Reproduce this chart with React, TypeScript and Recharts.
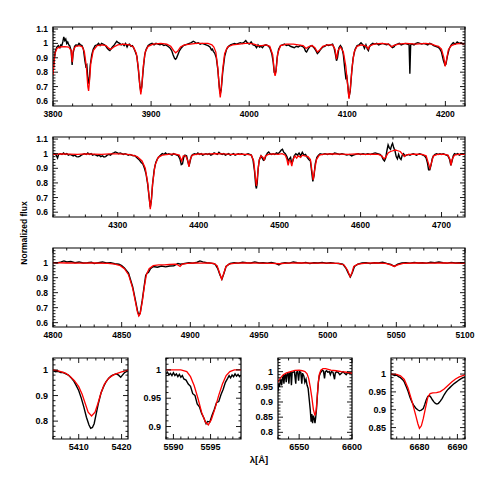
import React from "react";
import { LineChart, Line, XAxis, YAxis, ReferenceArea } from "recharts";

// [wavelength, normalized flux]
const obsBlue: number[] = [
  3800, 0.8, 3801, 0.88, 3802.5, 0.95, 3804, 0.975, 3805.5, 0.985, 3807, 0.97, 3808, 0.99, 3809, 0.985, 3810, 1.01, 3811, 1.045,
  3812, 1.02, 3813, 1.03, 3814, 1.0, 3815, 1.01, 3816, 0.99, 3817, 0.985, 3818.5, 0.95, 3819.5, 0.85, 3820.5, 0.93, 3822, 0.98,
  3823.5, 0.99, 3825, 0.985, 3826.5, 1.0, 3828, 0.99, 3829.5, 0.985, 3831, 0.96, 3832.5, 0.88, 3833.5, 0.84, 3834.5, 0.85,
  3835.5, 0.76, 3836.3, 0.72, 3837, 0.74, 3838, 0.85, 3839.5, 0.92, 3841, 0.96, 3843, 0.985, 3845, 0.99, 3846.5, 1.0, 3848, 0.985,
  3849.5, 1.0, 3851, 0.995, 3852.5, 0.99, 3854, 0.98, 3855.5, 0.965, 3857, 0.955, 3858, 0.95, 3859, 0.96, 3860.5, 0.975,
  3862, 0.985, 3863.5, 1.0, 3865, 1.015, 3866.5, 1.005, 3868, 1.0, 3869.5, 0.99, 3871, 0.995, 3872.5, 0.985, 3874, 1.0,
  3875.5, 0.975, 3876.5, 0.99, 3878, 0.995, 3879.5, 0.98, 3881, 0.985, 3882.5, 0.965, 3884, 0.94, 3885.5, 0.91, 3887, 0.82,
  3888.5, 0.71, 3889.5, 0.665, 3890.5, 0.7, 3892, 0.82, 3893.5, 0.92, 3895, 0.96, 3897, 0.985, 3899, 0.995, 3901, 1.0, 3903, 0.99,
  3905, 1.0, 3907, 0.995, 3909, 0.99, 3911, 0.995, 3913, 0.985, 3915, 0.99, 3917, 0.98, 3919, 0.97, 3921, 0.95, 3922.5, 0.92,
  3924, 0.895, 3925, 0.89, 3926, 0.9, 3927.5, 0.925, 3929, 0.95, 3931, 0.97, 3933, 0.985, 3935, 0.99, 3937, 0.995, 3939, 1.0,
  3941, 1.005, 3943, 1.015, 3944.5, 1.01, 3946, 1.0, 3948, 1.005, 3950, 0.995, 3952, 1.0, 3954, 0.995, 3956, 0.99, 3958, 0.985,
  3960, 0.975, 3961.5, 0.955, 3962.5, 0.96, 3963.5, 0.945, 3965, 0.93, 3966.5, 0.9, 3968, 0.82, 3969.5, 0.7, 3970.5, 0.65,
  3971.5, 0.68, 3973, 0.8, 3975, 0.91, 3977, 0.96, 3979, 0.98, 3981, 0.99, 3983, 0.995, 3985, 1.0, 3987, 0.995, 3989, 1.0,
  3991, 1.005, 3993, 1.0, 3995, 1.01, 3996.5, 1.02, 3998, 1.005, 4000, 0.995, 4002, 1.01, 4004, 0.99, 4006, 0.985, 4007.5, 0.97,
  4009, 0.99, 4010.5, 0.975, 4012, 0.98, 4013.5, 0.97, 4015, 0.985, 4017, 0.99, 4019, 0.985, 4021, 0.97, 4023, 0.93, 4024.5, 0.87,
  4025.5, 0.8, 4026.4, 0.79, 4027.3, 0.81, 4028.5, 0.9, 4030, 0.96, 4032, 0.985, 4034, 0.99, 4036, 0.995, 4038, 0.985, 4040, 0.99,
  4042, 0.98, 4044, 0.975, 4046, 0.97, 4048, 0.98, 4050, 0.975, 4052, 0.985, 4054, 0.98, 4056, 0.97, 4057.5, 0.945, 4058.5, 0.94,
  4060, 0.96, 4062, 0.98, 4064, 0.985, 4066, 0.97, 4068, 0.95, 4069.5, 0.93, 4071, 0.94, 4073, 0.96, 4075, 0.975, 4077, 0.98,
  4079, 0.99, 4081, 0.985, 4083, 0.99, 4085, 0.995, 4086.5, 0.97, 4088, 0.92, 4089, 0.88, 4090, 0.9, 4091.5, 0.97, 4093, 0.985,
  4094.5, 0.97, 4096, 0.92, 4097.5, 0.82, 4098.5, 0.76, 4099.5, 0.77, 4100.5, 0.71, 4101.7, 0.625, 4103, 0.67, 4104.5, 0.8,
  4106, 0.9, 4108, 0.96, 4110, 0.985, 4112, 0.99, 4114, 1.005, 4116, 0.99, 4117.5, 0.965, 4119, 0.99, 4120.5, 0.96, 4121.5, 0.95,
  4122.5, 0.975, 4124, 0.99, 4126, 1.0, 4128, 0.995, 4130, 1.0, 4132, 0.99, 4134, 0.995, 4136, 1.0, 4138, 0.995, 4140, 0.99,
  4142, 0.995, 4144, 0.985, 4146, 0.97, 4147.5, 0.975, 4149, 0.99, 4151, 0.995, 4153, 1.0, 4155, 0.99, 4157, 0.995, 4159, 1.0,
  4161, 0.995, 4163, 0.99, 4163.8, 0.79, 4164.6, 0.99, 4166, 0.995, 4168, 0.99, 4170, 1.0, 4172, 1.005, 4174, 1.0, 4176, 0.995,
  4178, 1.0, 4180, 0.995, 4182, 0.99, 4184, 1.0, 4186, 0.995, 4188, 0.985, 4190, 0.98, 4192, 0.975, 4194, 0.965, 4196, 0.94,
  4198, 0.88, 4199.5, 0.85, 4200.5, 0.855, 4202, 0.91, 4204, 0.965, 4206, 0.99, 4208, 1.005, 4210, 0.995, 4212, 1.01, 4214, 1.0,
  4216, 1.005, 4218, 0.995, 4220, 1.0,
];
const modBlue: number[] = [
  3800, 0.78, 3802, 0.93, 3804, 0.965, 3807, 0.975, 3812, 0.978, 3816, 0.975, 3818.5, 0.95, 3819.6, 0.87, 3820.5, 0.95,
  3823, 0.98, 3827, 0.985, 3830, 0.975, 3832, 0.94, 3834, 0.84, 3835.5, 0.7, 3836.3, 0.67, 3837, 0.72, 3838.5, 0.86, 3841, 0.95,
  3845, 0.985, 3850, 0.99, 3854, 0.985, 3857, 0.965, 3859, 0.96, 3862, 0.975, 3866, 0.99, 3872, 0.995, 3878, 0.99, 3882, 0.975,
  3885, 0.93, 3887, 0.83, 3888.6, 0.7, 3889.5, 0.645, 3890.4, 0.69, 3892, 0.84, 3894, 0.94, 3897, 0.98, 3902, 0.995, 3910, 1.0,
  3916, 0.995, 3920, 0.98, 3923, 0.95, 3925, 0.935, 3927, 0.945, 3930, 0.975, 3934, 0.99, 3940, 0.995, 3946, 1.0, 3952, 1.0,
  3958, 1.0, 3962, 0.99, 3964, 0.975, 3966, 0.94, 3968, 0.83, 3969.6, 0.68, 3970.5, 0.625, 3971.3, 0.67, 3973, 0.82, 3975, 0.93,
  3978, 0.975, 3983, 0.99, 3990, 0.995, 3996, 1.0, 4000, 1.0, 4005, 0.995, 4009, 0.985, 4013, 0.985, 4017, 0.99, 4021, 0.98,
  4024, 0.92, 4025.6, 0.8, 4026.4, 0.775, 4027.3, 0.8, 4029, 0.93, 4032, 0.985, 4038, 0.995, 4045, 0.995, 4050, 0.99, 4055, 0.985,
  4058, 0.965, 4060, 0.975, 4064, 0.985, 4067, 0.97, 4069.5, 0.94, 4072, 0.955, 4075, 0.98, 4080, 0.99, 4085, 0.99, 4087.5, 0.96,
  4089, 0.89, 4090.5, 0.95, 4093, 0.975, 4096, 0.94, 4098.5, 0.84, 4100.5, 0.7, 4101.7, 0.615, 4103, 0.68, 4105, 0.84, 4107, 0.94,
  4110, 0.98, 4114, 0.99, 4118, 0.985, 4120, 0.975, 4121.3, 0.96, 4122.5, 0.98, 4127, 0.995, 4135, 1.0, 4142, 0.995, 4145, 0.975,
  4147, 0.985, 4152, 0.995, 4160, 1.0, 4170, 0.995, 4180, 1.0, 4186, 0.995, 4190, 0.985, 4193, 0.98, 4196, 0.96, 4198.5, 0.9,
  4199.8, 0.84, 4201, 0.88, 4203, 0.955, 4206, 0.985, 4210, 0.995, 4215, 1.0, 4220, 0.998,
];

const obsMid: number[] = [
  4220, 0.995, 4222, 1.0, 4224, 0.99, 4225.6, 0.97, 4227, 0.995, 4229, 1.0, 4231, 0.995, 4233, 1.005, 4235, 0.995, 4237, 1.0,
  4239, 0.99, 4241, 0.995, 4243, 0.99, 4245, 0.985, 4247, 0.99, 4249, 0.98, 4251, 0.978, 4253, 0.982, 4255, 0.99, 4257, 0.995,
  4259, 1.0, 4261, 0.995, 4263, 1.005, 4265, 0.995, 4267, 1.0, 4269, 0.99, 4271, 0.995, 4273, 0.99, 4275, 0.985, 4277, 0.99,
  4279, 0.98, 4281, 0.985, 4283, 0.978, 4285, 0.98, 4287, 0.99, 4289, 0.995, 4291, 0.99, 4293, 1.0, 4295, 1.005, 4297, 1.012,
  4299, 1.008, 4301, 1.0, 4303, 1.005, 4305, 1.0, 4307, 0.995, 4309, 1.0, 4311, 0.995, 4313, 0.99, 4315, 0.995, 4317, 0.99,
  4319, 0.985, 4321, 0.988, 4323, 0.975, 4325, 0.965, 4327, 0.955, 4329, 0.94, 4331, 0.93, 4333, 0.9, 4335, 0.86, 4337, 0.79,
  4338.8, 0.7, 4340.2, 0.635, 4341.5, 0.68, 4343, 0.79, 4345, 0.89, 4347, 0.94, 4349, 0.965, 4351, 0.98, 4353, 0.99, 4355, 1.0,
  4357, 0.995, 4359, 1.005, 4361, 0.995, 4363, 1.0, 4365, 0.995, 4367, 0.99, 4369, 1.0, 4371, 0.995, 4373, 0.99, 4375, 0.985,
  4377, 0.96, 4378.5, 0.925, 4380, 0.93, 4381.5, 0.975, 4383, 0.99, 4385, 0.985, 4386.5, 0.95, 4388, 0.915, 4389.5, 0.95,
  4391, 0.985, 4393, 0.995, 4395, 1.0, 4397, 0.995, 4399, 1.005, 4401, 0.995, 4403, 1.0, 4405, 0.99, 4407, 0.995, 4409, 1.0,
  4411, 0.995, 4413, 1.0, 4415, 0.99, 4417, 0.995, 4419, 1.005, 4421, 1.0, 4423, 0.995, 4425, 1.01, 4427, 1.0, 4429, 0.995,
  4431, 1.0, 4433, 0.99, 4435, 0.995, 4437, 1.0, 4439, 0.99, 4441, 0.995, 4443, 1.0, 4445, 0.99, 4447, 0.995, 4449, 1.0,
  4451, 0.995, 4453, 1.0, 4455, 0.995, 4457, 0.99, 4459, 0.995, 4461, 1.0, 4463, 0.995, 4465, 0.99, 4467, 0.96, 4469, 0.88,
  4470.5, 0.78, 4471.3, 0.762, 4472.3, 0.8, 4473.5, 0.9, 4475, 0.96, 4477, 0.985, 4478.5, 0.97, 4480, 0.955, 4481.5, 0.96,
  4483, 0.985, 4485, 1.005, 4486.5, 1.012, 4488, 1.0, 4490, 0.995, 4492, 1.0, 4494, 0.995, 4496, 1.005, 4498, 1.0, 4500, 1.01,
  4502, 1.025, 4503.5, 1.03, 4505, 1.01, 4507, 1.0, 4509, 0.98, 4510.5, 0.95, 4512, 0.965, 4513.5, 0.975, 4515, 0.93,
  4516.5, 0.955, 4518, 0.985, 4520, 1.0, 4522, 0.99, 4524, 1.005, 4526, 0.985, 4528, 1.01, 4530, 0.99, 4532, 0.995, 4534, 0.975,
  4536, 0.96, 4538, 0.95, 4539.5, 0.88, 4541, 0.81, 4542.5, 0.85, 4544, 0.93, 4546, 0.975, 4548, 0.99, 4550, 1.0, 4553, 0.995,
  4556, 1.0, 4559, 0.995, 4562, 1.0, 4565, 0.995, 4568, 1.005, 4571, 1.0, 4574, 0.995, 4577, 1.0, 4580, 0.995, 4583, 0.99,
  4586, 0.995, 4589, 0.985, 4591, 0.99, 4594, 0.995, 4597, 1.0, 4600, 0.995, 4603, 1.0, 4606, 0.995, 4609, 1.0, 4612, 0.995,
  4615, 1.0, 4618, 1.005, 4621, 1.0, 4624, 0.995, 4626, 0.985, 4628, 0.96, 4629.5, 0.95, 4631, 0.97, 4632.5, 1.02, 4634, 1.06,
  4635.5, 1.04, 4637, 1.03, 4638.5, 1.06, 4639.5, 1.07, 4641, 1.04, 4642.5, 1.02, 4644, 0.98, 4645.5, 0.965, 4647, 0.995,
  4648.5, 0.97, 4650, 0.96, 4651.5, 0.99, 4653, 1.0, 4655, 0.985, 4657, 0.99, 4659, 0.995, 4661, 0.99, 4663, 0.995, 4665, 1.0,
  4667, 0.995, 4669, 0.99, 4671, 0.995, 4673, 1.0, 4675, 0.995, 4677, 0.99, 4679, 0.985, 4681, 0.97, 4682.5, 0.94, 4684, 0.89,
  4685.5, 0.89, 4687, 0.92, 4688.5, 0.965, 4690, 0.985, 4692, 0.995, 4694, 1.0, 4696, 0.995, 4698, 1.0, 4700, 0.995, 4702, 1.0,
  4704, 0.995, 4706, 0.99, 4708, 0.985, 4710, 0.96, 4711.5, 0.92, 4713, 0.95, 4714.5, 0.985, 4716, 1.0, 4718, 0.995, 4720, 1.0,
  4722, 0.99, 4724, 0.995, 4726, 1.0, 4728, 0.995, 4730, 0.995,
];
const modMid: number[] = [
  4220, 0.995, 4230, 0.998, 4240, 0.997, 4250, 0.995, 4260, 0.998, 4270, 0.997, 4280, 0.995, 4290, 0.998, 4300, 0.998,
  4310, 0.997, 4318, 0.99, 4324, 0.98, 4330, 0.95, 4334, 0.9, 4337, 0.8, 4338.8, 0.7, 4340.2, 0.62, 4341.5, 0.68, 4343, 0.79,
  4346, 0.92, 4350, 0.975, 4355, 0.99, 4362, 0.995, 4370, 0.998, 4376, 0.99, 4379, 0.95, 4381, 0.985, 4384, 0.985, 4386.5, 0.95,
  4388, 0.91, 4389.5, 0.96, 4392, 0.99, 4400, 0.998, 4410, 0.997, 4420, 1.0, 4430, 0.998, 4440, 0.995, 4450, 0.997, 4460, 0.995,
  4465, 0.99, 4468, 0.95, 4470, 0.84, 4471.3, 0.78, 4472.5, 0.84, 4474.5, 0.95, 4477, 0.985, 4479.5, 0.975, 4481, 0.96,
  4482.5, 0.985, 4486, 0.995, 4492, 0.998, 4498, 0.995, 4503, 1.0, 4507, 0.99, 4509, 0.96, 4510.5, 0.92, 4512, 0.955,
  4513.5, 0.95, 4515, 0.915, 4516.5, 0.96, 4519, 0.985, 4521, 0.97, 4523, 0.985, 4526, 0.975, 4528, 0.99, 4531, 0.985,
  4535, 0.98, 4538, 0.96, 4540, 0.88, 4541.5, 0.82, 4543, 0.88, 4545.5, 0.96, 4549, 0.99, 4555, 0.997, 4565, 0.998, 4575, 0.997,
  4585, 0.995, 4595, 0.998, 4605, 0.995, 4615, 0.997, 4622, 0.995, 4626, 0.985, 4629, 0.965, 4631, 0.975, 4634, 1.005,
  4637, 1.015, 4640, 1.02, 4643, 1.025, 4646, 1.02, 4649, 1.015, 4652, 0.995, 4654, 0.98, 4656, 0.99, 4660, 0.995, 4668, 0.997,
  4676, 0.995, 4681, 0.985, 4684, 0.93, 4685.7, 0.9, 4687.2, 0.93, 4690, 0.985, 4695, 0.995, 4702, 0.997, 4708, 0.99,
  4710.5, 0.96, 4711.8, 0.92, 4713, 0.96, 4716, 0.99, 4722, 0.997, 4730, 0.995,
];

const obsRed: number[] = [
  4800, 1.0, 4803, 0.998, 4806, 1.005, 4808, 1.012, 4810, 1.005, 4813, 1.008, 4816, 1.0, 4819, 1.005, 4822, 0.998, 4825, 1.0,
  4828, 1.003, 4830, 0.995, 4833, 1.0, 4836, 1.005, 4839, 0.998, 4842, 1.0, 4845, 0.993, 4848, 0.99, 4850, 0.98, 4852, 0.965,
  4855, 0.93, 4858, 0.84, 4860, 0.75, 4861.5, 0.68, 4862.5, 0.65, 4863.5, 0.665, 4865, 0.75, 4866.5, 0.85, 4867.5, 0.915,
  4868.5, 0.93, 4869.5, 0.935, 4871, 0.96, 4873, 0.975, 4876, 0.97, 4879, 0.978, 4882, 0.972, 4885, 0.978, 4888, 0.98,
  4891, 0.995, 4893, 0.99, 4896, 0.995, 4899, 1.0, 4902, 0.997, 4905, 1.003, 4907, 1.012, 4909, 1.005, 4912, 1.0, 4915, 0.997,
  4918, 0.99, 4920, 0.96, 4921.5, 0.92, 4923, 0.89, 4924.5, 0.93, 4926, 0.975, 4929, 0.995, 4932, 1.0, 4935, 0.997, 4938, 1.003,
  4941, 1.0, 4944, 0.998, 4947, 1.005, 4950, 0.998, 4953, 1.0, 4956, 0.997, 4959, 1.002, 4962, 0.995, 4964.5, 0.985, 4966, 0.995,
  4969, 1.0, 4972, 0.997, 4975, 1.005, 4978, 1.0, 4981, 0.997, 4984, 1.002, 4987, 0.995, 4990, 1.0, 4993, 0.998, 4996, 1.002,
  4999, 0.996, 5002, 1.0, 5005, 0.997, 5008, 0.995, 5011, 0.99, 5013.5, 0.96, 5015, 0.93, 5016.5, 0.905, 5018, 0.935,
  5019.5, 0.975, 5022, 0.99, 5025, 0.998, 5028, 1.0, 5031, 0.995, 5034, 1.0, 5037, 0.998, 5040, 1.003, 5043, 0.995, 5046, 0.988,
  5048.5, 0.975, 5051, 0.99, 5054, 0.998, 5057, 1.0, 5060, 0.997, 5063, 1.002, 5066, 0.998, 5069, 1.0, 5072, 0.997, 5075, 1.003,
  5078, 1.0, 5081, 1.005, 5084, 1.0, 5087, 0.997, 5090, 1.002, 5093, 0.998, 5096, 1.0, 5100, 0.998,
];
const modRed: number[] = [
  4800, 1.0, 4810, 0.998, 4820, 0.997, 4830, 0.998, 4840, 0.995, 4845, 0.99, 4849, 0.98, 4852, 0.96, 4855, 0.92, 4858, 0.83,
  4860, 0.74, 4861.5, 0.67, 4862.5, 0.645, 4863.5, 0.66, 4865, 0.74, 4866.5, 0.84, 4868, 0.92, 4870, 0.96, 4873, 0.98,
  4877, 0.985, 4881, 0.985, 4885, 0.988, 4889, 0.99, 4891, 0.985, 4892.5, 0.975, 4894, 0.99, 4898, 0.995, 4903, 0.998,
  4908, 0.997, 4913, 0.998, 4917, 0.995, 4919.5, 0.98, 4921, 0.94, 4922.8, 0.89, 4924, 0.92, 4926, 0.975, 4928, 0.99,
  4933, 0.997, 4940, 0.998, 4950, 0.997, 4960, 0.995, 4965, 0.993, 4970, 0.997, 4980, 0.998, 4990, 0.997, 5000, 0.997,
  5008, 0.995, 5012, 0.985, 5014.5, 0.95, 5016.3, 0.907, 5017.6, 0.93, 5019, 0.975, 5022, 0.99, 5028, 0.997, 5035, 0.998,
  5042, 0.995, 5046, 0.985, 5048.5, 0.975, 5051, 0.985, 5055, 0.995, 5065, 0.998, 5075, 0.997, 5085, 0.998, 5095, 0.997,
  5100, 0.998,
];

const obs5411: number[] = [
  5404, 0.997, 5404.6, 0.993, 5405.2, 0.995, 5405.8, 0.99, 5406.4, 0.99, 5407, 0.985, 5407.6, 0.98, 5408.2, 0.97, 5408.8, 0.958,
  5409.4, 0.94, 5410, 0.92, 5410.6, 0.89, 5411.2, 0.855, 5411.8, 0.815, 5412.4, 0.785, 5412.8, 0.772, 5413.2, 0.775,
  5413.6, 0.79, 5414.1, 0.83, 5414.6, 0.87, 5415.2, 0.91, 5415.8, 0.935, 5416.4, 0.955, 5417, 0.968, 5417.6, 0.977,
  5418.2, 0.982, 5418.8, 0.985, 5419.3, 0.98, 5419.8, 0.972, 5420.2, 0.98, 5420.7, 0.99, 5421.5, 0.997,
];
const mod5411: number[] = [
  5404, 1.0, 5405, 0.998, 5406, 0.993, 5407, 0.987, 5408, 0.975, 5409, 0.958, 5410, 0.935, 5410.8, 0.905, 5411.5, 0.87,
  5412.2, 0.835, 5413, 0.82, 5413.8, 0.835, 5414.5, 0.87, 5415.2, 0.91, 5416, 0.945, 5417, 0.968, 5418, 0.98, 5419, 0.987,
  5420, 0.993, 5421.5, 1.0,
];

const obs5592: number[] = [
  5589, 0.993, 5589.2, 0.996, 5589.4, 0.991, 5589.6, 0.994, 5589.8, 0.99, 5590, 0.995, 5590.2, 0.99, 5590.4, 0.993,
  5590.6, 0.988, 5590.8, 0.992, 5591, 0.987, 5591.2, 0.99, 5591.4, 0.984, 5591.7, 0.982, 5592, 0.975, 5592.3, 0.971,
  5592.6, 0.958, 5592.9, 0.955, 5593.2, 0.94, 5593.5, 0.935, 5593.8, 0.923, 5594.1, 0.915, 5594.4, 0.905, 5594.6, 0.909,
  5594.9, 0.908, 5595.2, 0.92, 5595.5, 0.93, 5595.8, 0.942, 5596.1, 0.944, 5596.4, 0.956, 5596.7, 0.966, 5597, 0.978,
  5597.3, 0.985, 5597.5, 0.99, 5597.7, 0.986, 5597.9, 0.991, 5598.1, 0.988, 5598.3, 0.993, 5598.5, 0.989, 5598.7, 0.992,
  5598.9, 0.988, 5599.1, 0.991,
];
const mod5592: number[] = [
  5589, 1.0, 5590, 1.0, 5591, 1.0, 5591.8, 0.997, 5592.3, 0.988, 5592.8, 0.972, 5593.3, 0.95, 5593.8, 0.925, 5594.3, 0.908,
  5594.7, 0.903, 5595.1, 0.912, 5595.6, 0.932, 5596.1, 0.955, 5596.6, 0.975, 5597.1, 0.99, 5597.6, 0.997, 5598.2, 1.0,
  5599.1, 1.0,
];

const obsHa: number[] = [
  6530, 0.935, 6530.7, 0.96, 6531.4, 0.95, 6532, 0.965, 6532.8, 0.975, 6533.5, 0.955, 6534.2, 0.98, 6535, 0.985, 6535.6, 0.96,
  6536.3, 0.988, 6537, 0.99, 6537.8, 0.965, 6538.5, 0.992, 6539.5, 0.995, 6540.3, 0.96, 6541, 0.995, 6542, 0.998, 6542.7, 0.955,
  6543.4, 0.997, 6545.5, 1.0, 6546.8, 0.96, 6547.4, 0.998, 6548.5, 1.0, 6549.5, 0.97, 6550.3, 1.0, 6551.5, 0.998, 6552.5, 0.96,
  6553.2, 0.995, 6554.5, 0.985, 6555.4, 0.965, 6556.5, 0.975, 6557.5, 0.955, 6558.5, 0.945, 6559.5, 0.91, 6560.5, 0.875,
  6561.3, 0.835, 6562, 0.86, 6562.7, 0.83, 6563.5, 0.855, 6564.3, 0.845, 6565, 0.83, 6565.7, 0.85, 6566.5, 0.88, 6567.3, 0.925,
  6568.2, 0.965, 6569, 0.985, 6570, 0.995, 6571, 1.0, 6572, 1.005, 6573, 1.002, 6574, 0.978, 6574.8, 1.0, 6576, 1.003,
  6577, 0.998, 6578.5, 1.0, 6579.5, 0.99, 6580.5, 1.0, 6582, 0.998, 6583.5, 0.975, 6584.2, 0.995, 6585.5, 1.0, 6587, 0.997,
  6588.5, 0.99, 6590, 0.995, 6591.5, 1.0, 6593, 0.995, 6594.5, 0.99, 6596, 0.997, 6597.5, 0.993, 6599, 0.996, 6600, 0.995,
];
const modHa: number[] = [
  6530, 0.965, 6532, 0.978, 6535, 0.99, 6538, 0.996, 6542, 1.0, 6546, 1.004, 6550, 1.005, 6553, 1.003, 6555.5, 1.0,
  6557.5, 0.993, 6559, 0.978, 6560.5, 0.95, 6562, 0.915, 6563.5, 0.875, 6565, 0.855, 6566, 0.87, 6567, 0.91, 6568, 0.96,
  6569, 0.99, 6570.5, 1.005, 6572.5, 1.01, 6575, 1.01, 6580, 1.005, 6585, 1.003, 6590, 1.0, 6595, 0.998, 6600, 0.995,
];

const obs6678: number[] = [
  6672.5, 1.0, 6673, 0.998, 6673.5, 0.996, 6674, 0.997, 6674.5, 0.993, 6675, 0.99, 6675.5, 0.985, 6676, 0.978, 6676.5, 0.965,
  6677, 0.952, 6677.5, 0.935, 6678, 0.922, 6678.5, 0.912, 6679, 0.905, 6679.5, 0.9, 6680, 0.897, 6680.5, 0.899, 6681, 0.903,
  6681.4, 0.915, 6681.8, 0.928, 6682.2, 0.937, 6682.6, 0.94, 6683, 0.935, 6683.4, 0.928, 6683.8, 0.922, 6684.2, 0.918,
  6684.6, 0.916, 6685, 0.918, 6685.5, 0.924, 6686, 0.932, 6686.5, 0.942, 6687, 0.95, 6687.5, 0.957, 6688, 0.962, 6688.5, 0.967,
  6689, 0.972, 6689.5, 0.976, 6690, 0.98, 6690.5, 0.984, 6691, 0.987, 6691.5, 0.99, 6692, 0.992,
];
const mod6678: number[] = [
  6672.5, 1.0, 6674, 0.999, 6675, 0.995, 6676, 0.985, 6677, 0.96, 6678, 0.925, 6679, 0.885, 6679.6, 0.86, 6680, 0.848,
  6680.5, 0.855, 6681, 0.875, 6681.6, 0.905, 6682.2, 0.935, 6682.8, 0.945, 6683.5, 0.947, 6684.5, 0.948, 6685.5, 0.951,
  6686.5, 0.958, 6687.5, 0.968, 6688.5, 0.978, 6689.5, 0.986, 6690.5, 0.992, 6692, 0.998,
];

// tick labels
const xTicksBlue = [3800, 3900, 4000, 4100, 4200];
const xTicksMid = [4300, 4400, 4500, 4600, 4700];
const xTicksRed = [4800, 4850, 4900, 4950, 5000, 5050, 5100];
const yTicksWide = [0.6, 0.7, 0.8, 0.9, 1, 1.1];
const xTicks5411 = [5410, 5420];
const yTicks5411 = [0.8, 0.9, 1];
const xTicks5592 = [5590, 5595];
const yTicks5592 = [0.9, 0.95, 1];
const xTicksHa = [6550, 6600];
const yTicksHa = [0.8, 0.85, 0.9, 0.95, 1];
const xTicks6678 = [6680, 6690];
const yTicks6678 = [0.85, 0.9, 0.95, 1];

const FONT = "'Liberation Sans', Arial, Helvetica, sans-serif";
const SIZE = 491;
const YW = 40;
const XH = 20;

const rows = (flat: number[]) => {
  const out: { x: number; y: number }[] = [];
  for (let i = 0; i < flat.length; i += 2) out.push({ x: flat[i], y: flat[i + 1] });
  return out;
};

// minor tick positions between the labelled ones
const steps = (lo: number, hi: number, step: number) => {
  const out: number[] = [];
  const start = Math.ceil(lo / step - 1e-9);
  for (let k = start; k * step <= hi + 1e-9; k++) out.push(Math.round(k * step * 1e6) / 1e6);
  return out;
};

const isMajor = (v: number, majors: number[]) => majors.some((m) => Math.abs(m - v) < 1e-6);

interface PanelProps {
  x: number;
  y: number;
  w: number;
  h: number;
  xDomain: [number, number];
  yDomain: [number, number];
  xMajor: number[];
  xStep: number;
  yMajor: number[];
  yStep: number;
  obs: number[];
  model: number[];
  fs?: number;
}

const Panel = ({ x, y, w, h, xDomain, yDomain, xMajor, xStep, yMajor, yStep, obs, model, fs = 8.5 }: PanelProps) => {
  const xTicks = steps(xDomain[0], xDomain[1], xStep);
  const yTicks = steps(yDomain[0], yDomain[1], yStep);

  const XTick = (p: any) => {
    const major = isMajor(p.payload.value, xMajor);
    const len = major ? 5 : 2.5;
    return (
      <g>
        <line x1={p.x} x2={p.x} y1={p.y} y2={p.y - len} stroke="#000" strokeWidth={0.9} />
        <line x1={p.x} x2={p.x} y1={p.y - h} y2={p.y - h + len} stroke="#000" strokeWidth={0.9} />
        {major && (
          <text x={p.x} y={p.y + 10.5} textAnchor="middle" fontFamily={FONT} fontWeight="bold" fontSize={fs} fill="#000">
            {p.payload.value}
          </text>
        )}
      </g>
    );
  };

  const YTick = (p: any) => {
    const major = isMajor(p.payload.value, yMajor);
    const len = major ? 5 : 2.5;
    return (
      <g>
        <line x1={p.x} x2={p.x + len} y1={p.y} y2={p.y} stroke="#000" strokeWidth={0.9} />
        <line x1={p.x + w} x2={p.x + w - len} y1={p.y} y2={p.y} stroke="#000" strokeWidth={0.9} />
        {major && (
          <text x={p.x - 5} y={p.y + 3} textAnchor="end" fontFamily={FONT} fontWeight="bold" fontSize={fs} fill="#000">
            {p.payload.value}
          </text>
        )}
      </g>
    );
  };

  return (
    <div style={{ position: "absolute", left: 0, top: 0 }}>
      <LineChart
        width={SIZE}
        height={SIZE}
        margin={{ top: y, left: x - YW, right: SIZE - x - w, bottom: SIZE - y - h - XH }}
      >
        <XAxis
          type="number"
          dataKey="x"
          domain={xDomain}
          allowDataOverflow
          ticks={xTicks}
          interval={0}
          tickSize={0}
          tickMargin={0}
          tickLine={false}
          axisLine={false}
          height={XH}
          tick={XTick}
        />
        <YAxis
          type="number"
          dataKey="y"
          domain={yDomain}
          allowDataOverflow
          ticks={yTicks}
          interval={0}
          tickSize={0}
          tickMargin={0}
          tickLine={false}
          axisLine={false}
          width={YW}
          tick={YTick}
        />
        <Line data={rows(obs)} dataKey="y" type="linear" stroke="#000" strokeWidth={1.4} dot={false} isAnimationActive={false} />
        <Line data={rows(model)} dataKey="y" type="linear" stroke="#ff0000" strokeWidth={1.3} dot={false} isAnimationActive={false} />
        <ReferenceArea
          x1={xDomain[0]}
          x2={xDomain[1]}
          y1={yDomain[0]}
          y2={yDomain[1]}
          fill="none"
          stroke="#000"
          strokeWidth={1.2}
          ifOverflow="visible"
        />
      </LineChart>
    </div>
  );
};

export default function App() {
  return (
    <div style={{ position: "absolute", left: 0, top: 0, width: SIZE, height: SIZE, background: "#fff" }}>
      <Panel x={53} y={27} w={412} h={79} xDomain={[3800, 4220]} yDomain={[0.565, 1.114]} xMajor={xTicksBlue} xStep={20}
        yMajor={yTicksWide} yStep={0.02} obs={obsBlue} model={modBlue} />
      <Panel x={53} y={137} w={412} h={80} xDomain={[4220, 4729]} yDomain={[0.567, 1.114]} xMajor={xTicksMid} xStep={20}
        yMajor={yTicksWide} yStep={0.02} obs={obsMid} model={modMid} />
      <Panel x={53} y={248} w={412} h={79} xDomain={[4800, 5100]} yDomain={[0.571, 1.098]} xMajor={xTicksRed} xStep={10}
        yMajor={yTicksWide} yStep={0.02} obs={obsRed} model={modRed} />
      <Panel x={53} y={358} w={75} h={81} xDomain={[5404, 5421.5]} yDomain={[0.73, 1.047]} xMajor={xTicks5411} xStep={2}
        yMajor={yTicks5411} yStep={0.02} obs={obs5411} model={mod5411} fs={9} />
      <Panel x={166} y={358} w={75} h={81} xDomain={[5589, 5599.1]} yDomain={[0.878, 1.021]} xMajor={xTicks5592} xStep={1}
        yMajor={yTicks5592} yStep={0.01} obs={obs5592} model={mod5592} fs={9} />
      <Panel x={278} y={358} w={74} h={81} xDomain={[6530, 6600]} yDomain={[0.778, 1.045]} xMajor={xTicksHa} xStep={10}
        yMajor={yTicksHa} yStep={0.01} obs={obsHa} model={modHa} fs={9} />
      <Panel x={391} y={358} w={74} h={81} xDomain={[6672.5, 6692]} yDomain={[0.818, 1.045]} xMajor={xTicks6678} xStep={2}
        yMajor={yTicks6678} yStep={0.01} obs={obs6678} model={mod6678} fs={9} />
      <svg width={SIZE} height={SIZE} style={{ position: "absolute", left: 0, top: 0, pointerEvents: "none" }}>
        <text x={25} y={233} transform="rotate(-90 25 233)" textAnchor="middle" dominantBaseline="middle"
          fontFamily={FONT} fontWeight="bold" fontSize={8.5} fill="#000">
          Normalized flux
        </text>
        <text x={259} y={463} textAnchor="middle" fontFamily={FONT} fontWeight="bold" fontSize={9.5} fill="#000">
          λ[Å]
        </text>
      </svg>
    </div>
  );
}
